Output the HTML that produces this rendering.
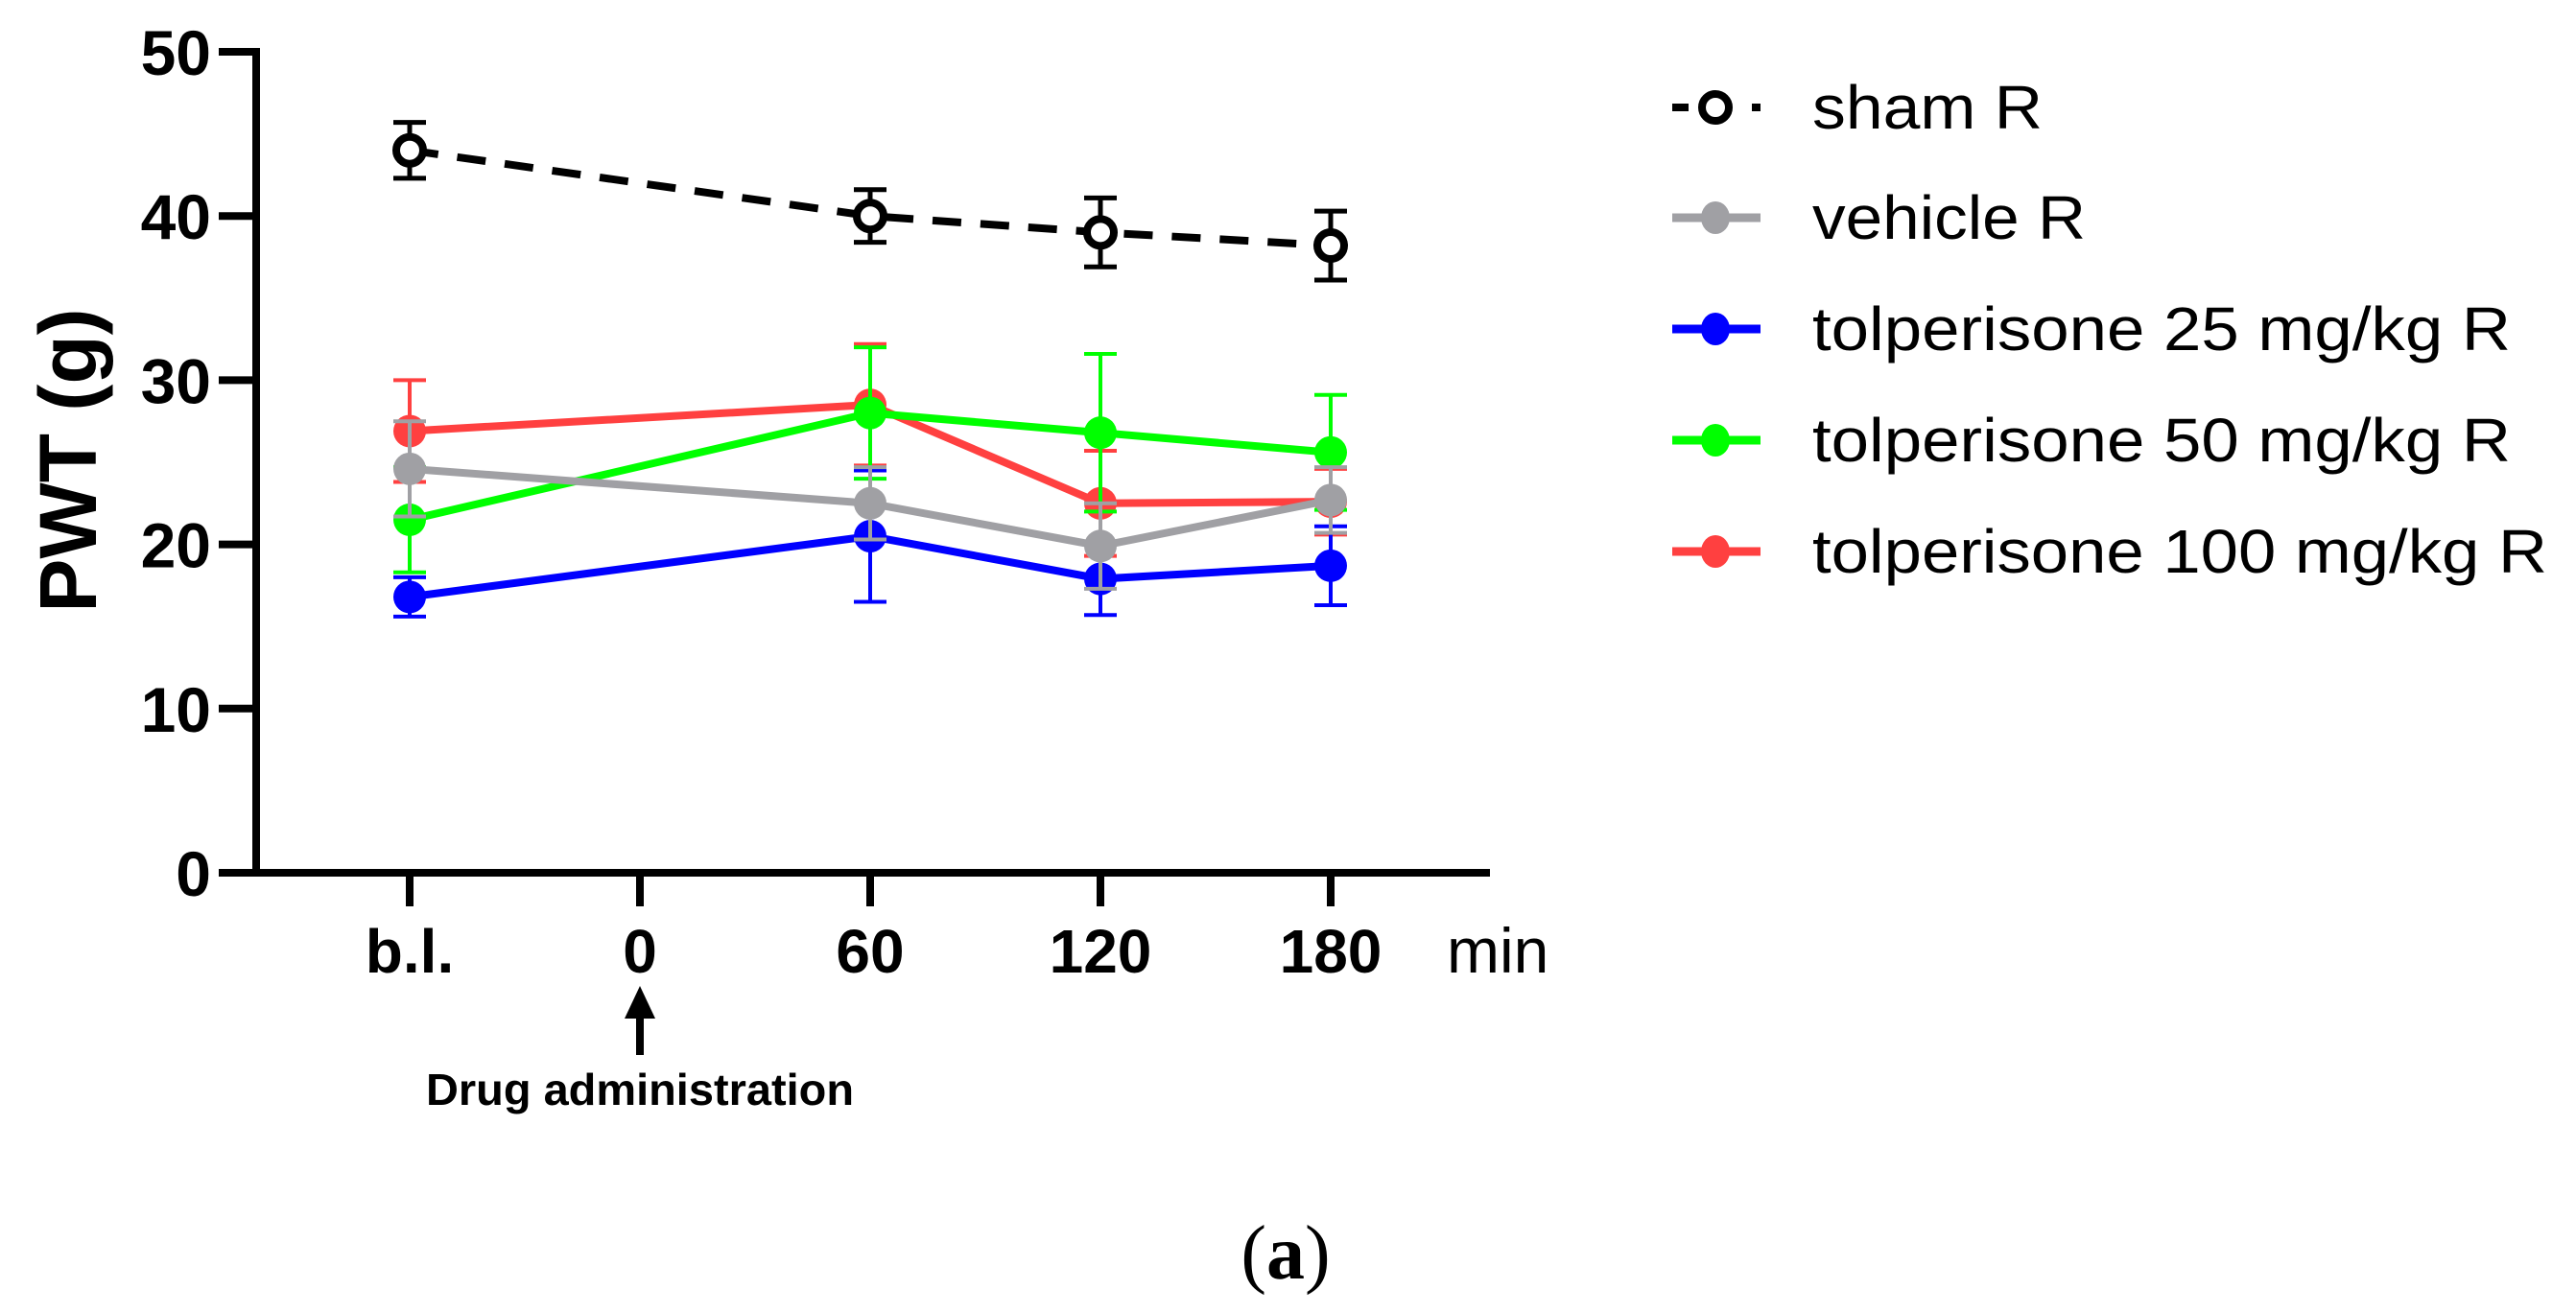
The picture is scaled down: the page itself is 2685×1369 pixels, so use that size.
<!DOCTYPE html>
<html><head><meta charset="utf-8"><style>
html,body{margin:0;padding:0;background:#fff;}
svg{display:block;}
text{font-family:"Liberation Sans",Arial,sans-serif;}
</style></head><body>
<svg id="chart" width="2685" height="1369" viewBox="0 0 2685 1369" xmlns="http://www.w3.org/2000/svg">
<g id="axes"></g>
<g id="series"></g>
<g id="legend"></g>
</svg>
<script>
const categories = ["b.l.", "0", "60", "120", "180"];
const seriesNames = ["sham R", "vehicle R", "tolperisone 25 mg/kg R", "tolperisone 50 mg/kg R", "tolperisone 100 mg/kg R"];
const yTicks = [0, 10, 20, 30, 40, 50];
const pointCats = [0, 2, 3, 4];
const shamVals = [44, 40, 39, 38.2];
const shamErr = [1.7, 1.6, 2.1, 2.1];
const vehicleVals = [24.6, 22.5, 19.9, 22.7];
const vehicleErr = [2.9, 2.2, 2.6, 2.0];
const tol25Vals = [16.8, 20.5, 17.9, 18.7];
const tol25Err = [1.2, 4.0, 2.2, 2.4];
const tol50Vals = [21.5, 28.0, 26.8, 25.6];
const tol50Err = [3.2, 4.0, 4.8, 3.5];
const tol100Vals = [26.9, 28.5, 22.5, 22.6];
const tol100Err = [3.1, 3.7, 3.2, 2.0];

const NS = "http://www.w3.org/2000/svg";
const X0 = 427, XSTEP = 240, Y0 = 910, YPER = 17.12;
function xs(i){ return X0 + i*XSTEP; }
function ys(v){ return Y0 - v*YPER; }
function mk(tag, attrs, parent){
  const e = document.createElementNS(NS, tag);
  for (const k in attrs) e.setAttribute(k, attrs[k]);
  parent.appendChild(e);
  return e;
}
const axes = document.getElementById('axes');
const ser = document.getElementById('series');
const leg = document.getElementById('legend');

let yl = mk('line', {x1:267,y1:50,x2:267,y2:914,stroke:'#000','stroke-width':8}, axes);


let xl = mk('line', {x1:263,y1:910,x2:1553,y2:910,stroke:'#000','stroke-width':8}, axes);


yTicks.forEach(v => {
  const t = mk('line', {x1:228,y1:ys(v),x2:267,y2:ys(v),stroke:'#000','stroke-width':8}, axes);
  
  
  const l = mk('text', {x:220,y:ys(v)+24,'text-anchor':'end','font-size':66,'font-weight':'bold'}, axes);
  l.textContent = v;
  
  
});
categories.forEach((c, i) => {
  const t = mk('line', {x1:xs(i),y1:910,x2:xs(i),y2:945,stroke:'#000','stroke-width':8}, axes);
  
  
  const l = mk('text', {x:xs(i),y:1014,'text-anchor':'middle','font-size':64,'font-weight':'bold'}, axes);
  l.textContent = c;
  
  
});
let mn = mk('text', {x:1508,y:1014,'font-size':66}, axes);
mn.textContent = 'min';


let yt = mk('text', {x:0,y:0,'text-anchor':'middle','font-size':84,'font-weight':'bold',transform:'translate(100,480) rotate(-90)'}, axes);
yt.textContent = 'PWT (g)';


let ar = mk('line', {x1:xs(1),y1:1100,x2:xs(1),y2:1055,stroke:'#000','stroke-width':8}, axes);


let ah = mk('polygon', {points:`${xs(1)},1028 ${xs(1)-16},1062 ${xs(1)+16},1062`,fill:'#000'}, axes);


let da = mk('text', {x:xs(1),y:1152,'text-anchor':'middle','font-size':46,'font-weight':'bold',textLength:446,lengthAdjust:'spacingAndGlyphs'}, axes);
da.textContent = 'Drug administration';


let cap = mk('text', {x:1340,y:1333,'text-anchor':'middle','font-size':80,style:'font-family:"Liberation Serif",serif'}, axes);
cap.innerHTML = '(<tspan font-weight="bold">a</tspan>)';



function drawSeries(name, vals, errs, color, open, dashed){
  const g = mk('g', {}, ser);
  
  
  const pts = vals.map((v,i)=>xs(pointCats[i])+','+ys(v)).join(' ');
  const pl = mk('polyline', {points:pts,fill:'none',stroke:color,'stroke-width':8}, g);
  if (dashed) pl.setAttribute('stroke-dasharray','30 20');
  
  
  vals.forEach((v,i)=>{
    const x = xs(pointCats[i]), e = errs[i];
    const eb = mk('path', {d:`M${x},${ys(v+e)}V${ys(v-e)}M${x-17},${ys(v+e)}H${x+17}M${x-17},${ys(v-e)}H${x+17}`,stroke:color,'stroke-width':open?5:4,fill:'none'}, g);
    
    
    const c = mk('circle', {cx:x,cy:ys(v),r:open?14:17,fill:open?'#fff':color,stroke:open?color:'none','stroke-width':open?8:0}, g);
    
    
  });
}
drawSeries('sham-r', shamVals, shamErr, '#000', true, true);
drawSeries('tolperisone-100', tol100Vals, tol100Err, '#ff4040', false, false);
drawSeries('tolperisone-50', tol50Vals, tol50Err, '#00ff00', false, false);
drawSeries('tolperisone-25', tol25Vals, tol25Err, '#0000ff', false, false);
drawSeries('vehicle-r', vehicleVals, vehicleErr, '#a0a0a4', false, false);

const legColors = ['#000', '#a0a0a4', '#0000ff', '#00ff00', '#ff4040'];
const legY = [112, 227, 343, 459, 575];
const legW = [240, 285, 728, 728, 766];
seriesNames.forEach((n, i) => {
  const g = mk('g', {}, leg);
  
  
  const y = legY[i];
  if (i === 0) {
    const a = mk('path', {d:`M1743,${y}H1760M1826,${y}H1835`,stroke:'#000','stroke-width':8}, g);
    
    
    const c = mk('circle', {cx:1788,cy:y,r:14,fill:'#fff',stroke:'#000','stroke-width':8}, g);
    
    
  } else {
    const a = mk('line', {x1:1743,y1:y,x2:1835,y2:y,stroke:legColors[i],'stroke-width':9}, g);
    
    
    const c = mk('ellipse', {cx:1788,cy:y,rx:15,ry:17,fill:legColors[i]}, g);
    
    
  }
  const t = mk('text', {x:1889,y:y+22,'font-size':64,textLength:legW[i],lengthAdjust:'spacingAndGlyphs'}, g);
  t.textContent = n;
  
  
});
</script>
</body></html>
